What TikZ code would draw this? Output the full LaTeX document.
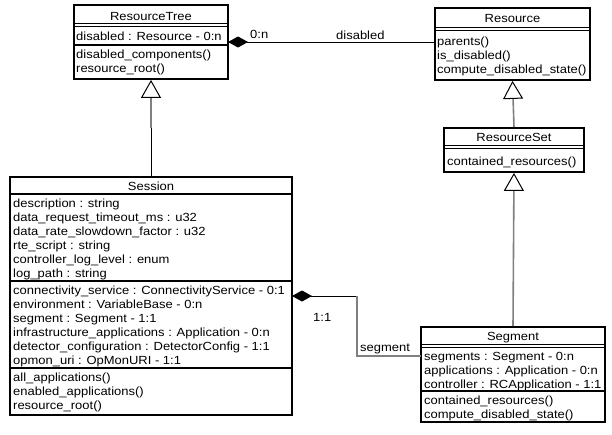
\documentclass[tikz,border=0pt]{standalone}
\usepackage{fontspec}
\setmainfont{Liberation Sans}[FakeStretch=1.1]
\usetikzlibrary{arrows.meta}

\newcommand\umlfont{\fontsize{11.8}{14}\selectfont}
\definecolor{linegray}{RGB}{128,128,128}

\tikzset{
    classbox/.style={draw, line width=1.8pt, inner sep=0pt},
    classname/.style={anchor=base, inner sep=0pt, font=\umlfont},
    member/.style={anchor=base west, inner sep=0pt, font=\umlfont},
    compsep/.style={line width=1.8pt},
    thinsep/.style={line width=1pt},
    assoc/.style={line width=1pt},
    genline/.style={draw=linegray, line width=1.6pt},
    gentip/.style={-{Triangle[length=18pt, width=20pt, line width=1pt, color=black, fill=white]}},
    comptip/.style={{Diamond[length=20pt, width=11pt]}-},
    rolelabel/.style={anchor=base west, inner sep=0pt, font=\umlfont}
}

\begin{document}
\begin{tikzpicture}[x=1pt, y=-1pt]
    \useasboundingbox (0,0) rectangle (612,434);

    \node[classbox, minimum width=154pt, minimum height=74pt] (tree) at (151,42) {};
    \node[classbox, minimum width=155pt, minimum height=72pt] (resource) at (512.5,44) {};
    \node[classbox, minimum width=140pt, minimum height=44pt] (rset) at (514,150) {};
    \node[classbox, minimum width=282pt, minimum height=238pt] (session) at (151,296) {};
    \node[classbox, minimum width=184pt, minimum height=95pt] (segment) at (513,374.5) {};

    \node[classname] (treename) at (151,20) {ResourceTree};
    \node[classname] (resourcename) at (512.5,22) {Resource};
    \node[classname] (rsetname) at (514,141) {ResourceSet};
    \node[classname] (sessionname) at (151,190) {Session};
    \node[classname] (segmentname) at (513,340) {Segment};

    \draw[thinsep] (74,23.5) -- (228,23.5) (74,26.5) -- (228,26.5);
    \draw[compsep] (74,45) -- (228,45);
    \draw[thinsep] (435,27) -- (590,27) (435,30) -- (590,30);
    \draw[thinsep] (444,145.5) -- (584,145.5) (444,148.5) -- (584,148.5);
    \draw[compsep] (10,194) -- (292,194);
    \draw[compsep] (10,281) -- (292,281);
    \draw[compsep] (10,368) -- (292,368);
    \draw[thinsep] (421,344) -- (605,344) (421,347) -- (605,347);
    \draw[compsep] (421,391) -- (605,391);

    \node[member] (treeattr) at (76,40) {disabled : Resource - 0:n};
    \foreach \txt [count=\k from 0] in {disabled\_components(), resource\_root()}
        \node[member] (treeop\k) at (76,58+14*\k) {\txt};

    \foreach \txt [count=\k from 0] in {parents(), is\_disabled(), compute\_disabled\_state()}
        \node[member] (resourceop\k) at (437,45+14*\k) {\txt};

    \node[member] (rsetop) at (447,165) {contained\_resources()};

    \foreach \txt [count=\k from 0] in {description : string,
        data\_request\_timeout\_ms : u32, data\_rate\_slowdown\_factor : u32,
        rte\_script : string, controller\_log\_level : enum, log\_path : string}
        \node[member] (sessattr\k) at (13,207+14*\k) {\txt};
    \foreach \txt [count=\k from 0] in {connectivity\_service : ConnectivityService - 0:1,
        environment : VariableBase - 0:n, segment : Segment - 1:1,
        infrastructure\_applications : Application - 0:n,
        detector\_configuration : DetectorConfig - 1:1, opmon\_uri : OpMonURI - 1:1}
        \node[member] (sessrel\k) at (13,294+14*\k) {\txt};
    \foreach \txt [count=\k from 0] in {all\_applications(), enabled\_applications(), resource\_root()}
        \node[member] (sessop\k) at (13,381+14*\k) {\txt};

    \foreach \txt [count=\k from 0] in {segments : Segment - 0:n,
        applications : Application - 0:n, controller : RCApplication - 1:1}
        \node[member] (segattr\k) at (424,360+14*\k) {\txt};
    \foreach \txt [count=\k from 0] in {contained\_resources(), compute\_disabled\_state()}
        \node[member] (segop\k) at (424,404+14*\k) {\txt};

    \coordinate (treediamond) at (228,42);
    \coordinate (resourcein) at (435,42);
    \coordinate (sessbend) at (151,128);
    \coordinate (segdiamond) at (292,296);
    \coordinate (segbend) at (357,296);
    \coordinate (segin) at (421,356);

    \draw[assoc, comptip] (treediamond) -- (resourcein);
    \node[rolelabel] (treerole) at (250,38) {0:n};
    \node[rolelabel] (disabledrole) at (336,39) {disabled};

    \draw[genline, gentip] (rset.north) -- (resource.south);
    \draw[genline, gentip] (segment.north) -- (rset.south);
    \draw[assoc] (session.north) -- (sessbend);
    \draw[genline, gentip] (sessbend) -- (tree.south);

    \draw[assoc, comptip] (segdiamond) -- (segbend);
    \draw[genline] (segbend) |- (segin);
    \node[rolelabel] (sessrole) at (313,321) {1:1};
    \node[rolelabel] (segmentrole) at (360,351) {segment};
\end{tikzpicture}
\end{document}
